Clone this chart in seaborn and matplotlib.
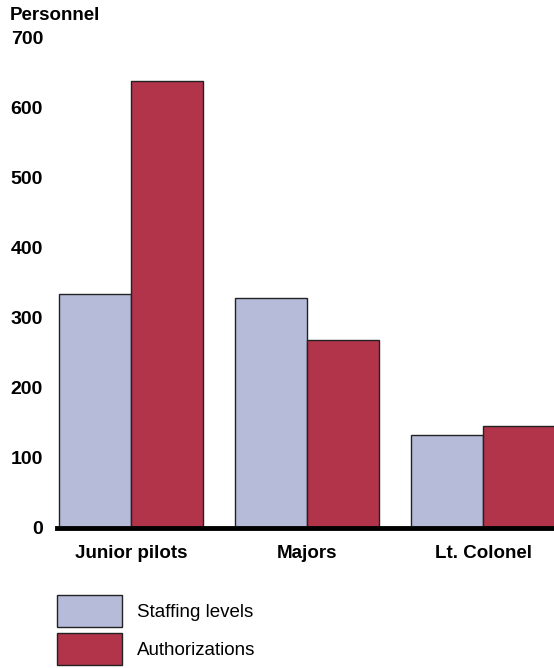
import matplotlib
matplotlib.use("Agg")
import matplotlib.pyplot as plt
import seaborn as sns
import pandas as pd
from matplotlib.patches import Patch

categories = ["Junior pilots", "Majors", "Lt. Colonel"]
staffing = [334, 329, 133]
authorizations = [639, 269, 146]
series_names = ["Staffing levels", "Authorizations"]
y_ticks = [0, 100, 200, 300, 400, 500, 600, 700]

colors = ["#b7bbda", "#b2344a"]

df = pd.DataFrame({
    "category": categories * 2,
    "value": staffing + authorizations,
    "series": [series_names[0]] * 3 + [series_names[1]] * 3,
})

sns.set_theme(style="white")
plt.rcParams["font.family"] = ["Liberation Sans", "DejaVu Sans"]
plt.rcParams["text.color"] = "black"
plt.rcParams["xtick.color"] = "black"
plt.rcParams["ytick.color"] = "black"

FS = 13.5

fig = plt.figure(figsize=(5.54, 6.68), dpi=100)
ax = fig.add_axes([57 / 554, (668 - 528) / 668, 497 / 554, (528 - 38) / 668])

sns.barplot(data=df, x="category", y="value", hue="series", order=categories,
            hue_order=series_names, palette=colors, width=0.818, gap=0,
            edgecolor="#222222", linewidth=1.0, saturation=1, ax=ax, legend=False)

ax.set_xlim(-0.42, 2.403)
ax.set_ylim(0, 700)
ax.set_yticks(y_ticks)
ax.set_yticklabels([str(t) for t in y_ticks], fontsize=14, fontweight="bold", color="black")
ax.set_xticklabels(categories, fontsize=FS, fontweight="bold", color="black")
ax.tick_params(axis="y", length=0, pad=10)
ax.tick_params(axis="x", length=0, pad=12.5)
ax.set_xlabel("")
ax.set_ylabel("")
for s in ["top", "right", "left"]:
    ax.spines[s].set_visible(False)
ax.spines["bottom"].set_linewidth(3.5)
ax.spines["bottom"].set_color("black")
ax.spines["bottom"].set_zorder(5)

fig.text(10 / 554, 1 - 7 / 668, "Personnel", fontsize=FS, fontweight="bold",
         ha="left", va="top", color="black")

handles = [Patch(facecolor=c, edgecolor="#222222", linewidth=1.0) for c in colors]
fig.legend(handles, series_names, loc="upper left",
           bbox_to_anchor=(57 / 554, 1 - 595 / 668), bbox_transform=fig.transFigure,
           frameon=False, fontsize=FS, handlelength=3.47, handleheight=2.27,
           labelspacing=0.3, handletextpad=0.8, borderaxespad=0, borderpad=0,
           labelcolor="black")

fig.savefig("out.png", dpi=100)
